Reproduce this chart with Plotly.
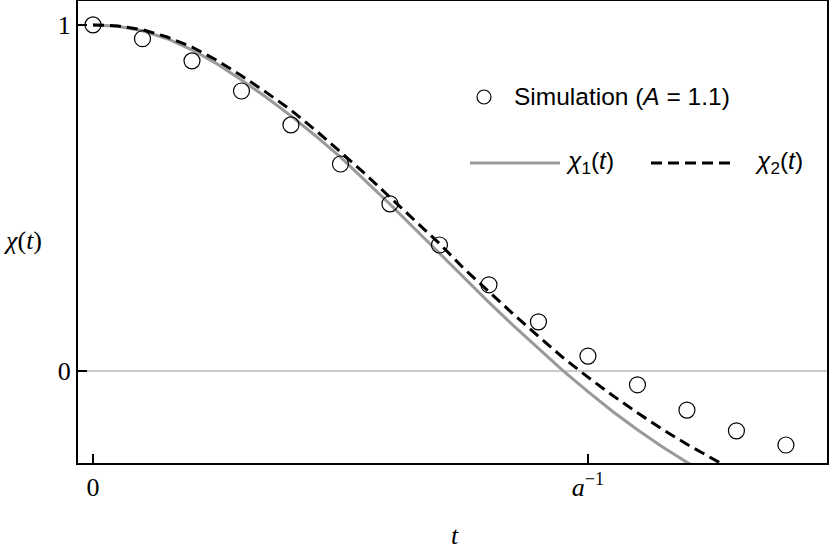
import plotly.graph_objects as go

# Simulatie punten (t in eenheden van a^-1)
t_sim = [0.0, 0.1, 0.2, 0.3, 0.4, 0.5, 0.6, 0.7, 0.8, 0.9, 1.0, 1.1, 1.2, 1.3, 1.4]
chi_sim = [1.0, 0.960, 0.896, 0.809, 0.711, 0.598, 0.483, 0.364, 0.249, 0.142,
           0.043, -0.040, -0.113, -0.173, -0.214]

t_curve = [0.0, 0.05, 0.1, 0.15, 0.2, 0.25, 0.3, 0.35, 0.4, 0.45, 0.5, 0.55, 0.6,
           0.65, 0.7, 0.75, 0.8, 0.85, 0.9, 0.95, 1.0, 1.05, 1.1, 1.15, 1.2, 1.25, 1.3]
chi_1 = [1.000, 0.996, 0.983, 0.960, 0.928, 0.888, 0.841, 0.791, 0.737, 0.679, 0.618,
         0.551, 0.482, 0.411, 0.340, 0.268, 0.198, 0.130, 0.064, 0.000, -0.060,
         -0.117, -0.170, -0.219, -0.264, -0.305, -0.340]
chi_2 = [1.000, 0.997, 0.986, 0.965, 0.936, 0.898, 0.853, 0.805, 0.754, 0.695, 0.633,
         0.569, 0.502, 0.435, 0.368, 0.295, 0.228, 0.163, 0.100, 0.038, -0.018,
         -0.071, -0.121, -0.168, -0.212, -0.253, -0.292]

x_ticks = [0, 1]
x_ticktext = ["0", "<i>a</i><sup>−1</sup>"]
y_ticks = [0, 1]
y_ticktext = ["0", "1"]

W, H = 830, 551
L, R, T, B = 78, 3, 1, 88
pw, ph = W - L - R, H - T - B


def px(x):
    return (x - L) / pw


def py(y):
    return (H - B - y) / ph


serif = "Liberation Serif"
sans = "Liberation Sans"

fig = go.Figure()
fig.add_trace(go.Scatter(x=t_curve, y=chi_1, mode="lines", name="χ1",
                         line=dict(color="#9a9a9a", width=3), showlegend=False))
fig.add_trace(go.Scatter(x=t_curve, y=chi_2, mode="lines", name="χ2",
                         line=dict(color="black", width=3, dash="11px,6px"), showlegend=False))
fig.add_trace(go.Scatter(x=t_sim, y=chi_sim, mode="markers", name="Simulation",
                         marker=dict(symbol="circle-open", size=16, color="black",
                                     line=dict(width=1.2, color="black")),
                         showlegend=False))

# Legenda met de hand opbouwen
fig.add_shape(type="circle", xref="paper", yref="paper",
              x0=px(477), x1=px(491), y0=py(104), y1=py(90),
              line=dict(color="black", width=1.2))
fig.add_shape(type="line", xref="paper", yref="paper",
              x0=px(470), x1=px(560), y0=py(163), y1=py(163),
              line=dict(color="#9a9a9a", width=3))
fig.add_shape(type="line", xref="paper", yref="paper",
              x0=px(651), x1=px(736), y0=py(163), y1=py(163),
              line=dict(color="black", width=3, dash="11px,6px"))
legend_text = [
    (512, 97, "Simulation (<i>A</i> = 1.1)"),
    (564, 162, "<i>χ</i><sub>1</sub>(<i>t</i>)"),
    (753, 162, "<i>χ</i><sub>2</sub>(<i>t</i>)"),
]
for x, y, txt in legend_text:
    fig.add_annotation(xref="paper", yref="paper", x=px(x), y=py(y), text=txt,
                       showarrow=False, xanchor="left", yanchor="middle",
                       font=dict(family=sans, size=24.5, color="black"))

# As titels
fig.add_annotation(xref="paper", yref="paper", x=px(23), y=py(240),
                   text="<i>χ</i>(<i>t</i>)", showarrow=False,
                   xanchor="center", yanchor="middle",
                   font=dict(family=serif, size=26, color="black"))
fig.add_annotation(xref="paper", yref="paper", x=px(455), y=py(535),
                   text="<i>t</i>", showarrow=False,
                   xanchor="center", yanchor="middle",
                   font=dict(family=serif, size=26, color="black"))

fig.update_layout(width=W, height=H, margin=dict(l=L, r=R, t=T, b=B, autoexpand=False),
                  plot_bgcolor="white", paper_bgcolor="white")
fig.update_xaxes(range=[-0.0303, 1.483], tickvals=x_ticks, ticktext=x_ticktext,
                 ticks="inside", ticklen=9, tickwidth=2, tickcolor="black",
                 showline=True, linewidth=2, linecolor="black", mirror=True,
                 showgrid=False, zeroline=False, ticklabelstandoff=0, automargin=False,
                 tickfont=dict(family=serif, size=26, color="black"))
fig.update_yaxes(range=[-0.266, 1.069], tickvals=y_ticks, ticktext=y_ticktext,
                 ticks="inside", ticklen=9, tickwidth=2, tickcolor="black",
                 showline=True, linewidth=2, linecolor="black", mirror=True,
                 showgrid=False, zeroline=True, zerolinecolor="#cccccc", zerolinewidth=1.5,
                 ticklabelstandoff=0, automargin=False,
                 tickfont=dict(family=serif, size=26, color="black"))

# body marge van de pagina weghalen zodat de figuur op (0, 0) staat
fig.write_html("out.html", config={"displayModeBar": False},
               post_script="document.body.style.margin = '0';")
